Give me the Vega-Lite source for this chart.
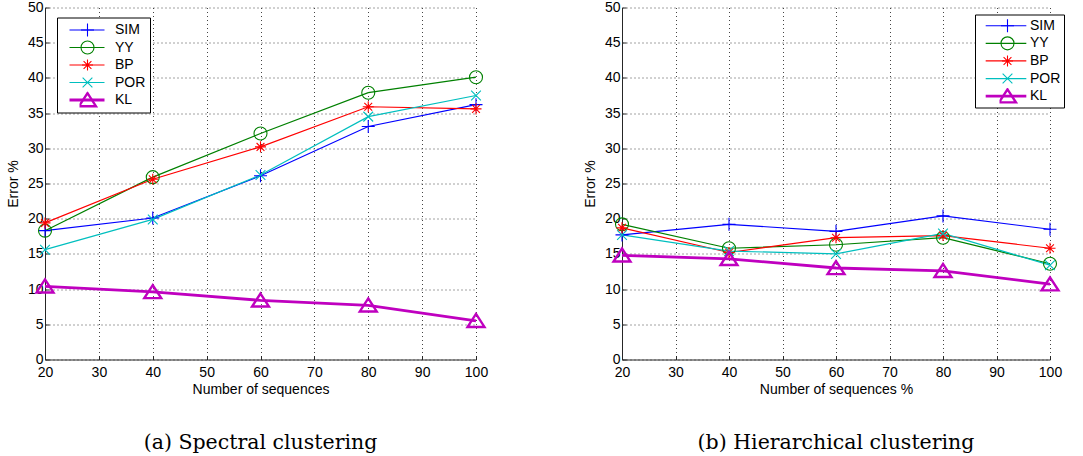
{
  "$schema": "https://vega.github.io/schema/vega-lite/v6.json",
  "background": "white",
  "padding": {"left": 6, "top": 0.5, "right": 5, "bottom": 0},
  "datasets": {
    "spectral": [
      {"n": 20, "err": 18.3, "s": "SIM"}, {"n": 40, "err": 20.1, "s": "SIM"}, {"n": 60, "err": 26.1, "s": "SIM"}, {"n": 80, "err": 33.1, "s": "SIM"}, {"n": 100, "err": 36.2, "s": "SIM"},
      {"n": 20, "err": 18.3, "s": "YY"}, {"n": 40, "err": 25.9, "s": "YY"}, {"n": 60, "err": 32.1, "s": "YY"}, {"n": 80, "err": 37.9, "s": "YY"}, {"n": 100, "err": 40.1, "s": "YY"},
      {"n": 20, "err": 19.4, "s": "BP"}, {"n": 40, "err": 25.6, "s": "BP"}, {"n": 60, "err": 30.2, "s": "BP"}, {"n": 80, "err": 35.9, "s": "BP"}, {"n": 100, "err": 35.6, "s": "BP"},
      {"n": 20, "err": 15.6, "s": "POR"}, {"n": 40, "err": 19.9, "s": "POR"}, {"n": 60, "err": 26.2, "s": "POR"}, {"n": 80, "err": 34.5, "s": "POR"}, {"n": 100, "err": 37.5, "s": "POR"},
      {"n": 20, "err": 10.4, "s": "KL"}, {"n": 40, "err": 9.6, "s": "KL"}, {"n": 60, "err": 8.4, "s": "KL"}, {"n": 80, "err": 7.7, "s": "KL"}, {"n": 100, "err": 5.5, "s": "KL"}
    ],
    "hier": [
      {"n": 20, "err": 17.7, "s": "SIM"}, {"n": 40, "err": 19.2, "s": "SIM"}, {"n": 60, "err": 18.2, "s": "SIM"}, {"n": 80, "err": 20.4, "s": "SIM"}, {"n": 100, "err": 18.5, "s": "SIM"},
      {"n": 20, "err": 19.2, "s": "YY"}, {"n": 40, "err": 15.8, "s": "YY"}, {"n": 60, "err": 16.3, "s": "YY"}, {"n": 80, "err": 17.3, "s": "YY"}, {"n": 100, "err": 13.6, "s": "YY"},
      {"n": 20, "err": 18.7, "s": "BP"}, {"n": 40, "err": 15.2, "s": "BP"}, {"n": 60, "err": 17.3, "s": "BP"}, {"n": 80, "err": 17.6, "s": "BP"}, {"n": 100, "err": 15.8, "s": "BP"},
      {"n": 20, "err": 17.7, "s": "POR"}, {"n": 40, "err": 15.4, "s": "POR"}, {"n": 60, "err": 15.0, "s": "POR"}, {"n": 80, "err": 17.9, "s": "POR"}, {"n": 100, "err": 13.4, "s": "POR"},
      {"n": 20, "err": 14.8, "s": "KL"}, {"n": 40, "err": 14.3, "s": "KL"}, {"n": 60, "err": 13.0, "s": "KL"}, {"n": 80, "err": 12.6, "s": "KL"}, {"n": 100, "err": 10.7, "s": "KL"}
    ]
  },
  "hconcat": [
    {
      "width": 431,
      "height": 352,
      "data": {"name": "spectral"},
      "title": {"text": "(a) Spectral clustering", "orient": "bottom", "frame": "group", "anchor": "middle", "offset": 36, "font": "DejaVu Serif", "fontSize": 20.5, "fontWeight": "normal", "color": "#000"},
      "encoding": {
        "x": {"field": "n", "type": "quantitative", "scale": {"domain": [20, 100], "nice": false, "zero": false}, "axis": {"values": [20, 30, 40, 50, 60, 70, 80, 90, 100], "title": "Number of sequences"}},
        "y": {"field": "err", "type": "quantitative", "scale": {"domain": [0, 50], "nice": false}, "axis": {"values": [0, 5, 10, 15, 20, 25, 30, 35, 40, 45, 50], "title": "Error %"}}
      },
      "layer": [
        {
          "mark": {"type": "line"},
          "encoding": {
            "color": {"field": "s", "type": "nominal", "scale": {"domain": ["SIM", "YY", "BP", "POR", "KL"], "range": ["#0000ff", "#008000", "#ff0000", "#00bfbf", "#bf00bf"]},
              "legend": {"title": null, "orient": "none", "legendX": 12, "legendY": 10, "symbolType": "stroke", "symbolSize": 1225, "symbolOffset": 7, "clipHeight": 17, "rowPadding": 0.5, "padding": 4, "strokeColor": "#000", "fillColor": "#fff", "labelOffset": 9, "labelExpr": "datum.label"}},
            "strokeWidth": {"field": "s", "type": "nominal", "scale": {"type": "ordinal", "domain": ["SIM", "YY", "BP", "POR", "KL"], "range": [1.2, 1.2, 1.2, 1.2, 2.8]},
              "legend": {"title": null, "orient": "none", "legendX": 12, "legendY": 10, "symbolType": "stroke", "symbolSize": 1225, "symbolOffset": 7, "clipHeight": 17, "rowPadding": 0.5, "padding": 4, "strokeColor": "#000", "fillColor": "#fff", "labelOffset": 9, "labelExpr": "datum.label"}}
          }
        },
        {
          "mark": {"type": "point", "filled": false, "size": 169, "opacity": 1},
          "encoding": {
            "color": {"field": "s", "type": "nominal",
              "legend": {"title": null, "orient": "none", "legendX": 30.5, "legendY": 10, "symbolSize": 169, "clipHeight": 17, "rowPadding": 0.5, "padding": 4, "labelOpacity": 0, "labelOffset": 10, "labelExpr": "datum.label"}},
            "shape": {"field": "s", "type": "nominal", "scale": {"domain": ["SIM", "YY", "BP", "POR", "KL"], "range": ["M-1,0L1,0M0,-1L0,1", "circle", "M-0.85,0L0.85,0M0,-0.85L0,0.85M-0.6,-0.6L0.6,0.6M-0.6,0.6L0.6,-0.6", "M-0.75,-0.75L0.75,0.75M-0.75,0.75L0.75,-0.75", "M0,-1.05L1.3,0.95L-1.3,0.95Z"]},
              "legend": {"title": null, "orient": "none", "legendX": 30.5, "legendY": 10, "symbolSize": 169, "clipHeight": 17, "rowPadding": 0.5, "padding": 4, "labelOpacity": 0, "labelOffset": 10, "labelExpr": "datum.label"}},
            "strokeWidth": {"field": "s", "type": "nominal", "scale": {"type": "ordinal", "domain": ["SIM", "YY", "BP", "POR", "KL"], "range": [1.1, 1.1, 1.1, 1.1, 2.4]},
              "legend": {"title": null, "orient": "none", "legendX": 30.5, "legendY": 10, "symbolSize": 169, "clipHeight": 17, "rowPadding": 0.5, "padding": 4, "labelOpacity": 0, "labelOffset": 10, "labelExpr": "datum.label"}}
          }
        }
      ],
      "resolve": {"scale": {"strokeWidth": "independent"}, "legend": {"color": "independent", "shape": "independent", "strokeWidth": "independent"}}
    },
    {
      "width": 428,
      "height": 352,
      "data": {"name": "hier"},
      "title": {"text": "(b) Hierarchical clustering", "orient": "bottom", "frame": "group", "anchor": "middle", "offset": 36, "font": "DejaVu Serif", "fontSize": 20.5, "fontWeight": "normal", "color": "#000"},
      "encoding": {
        "x": {"field": "n", "type": "quantitative", "scale": {"domain": [20, 100], "nice": false, "zero": false}, "axis": {"values": [20, 30, 40, 50, 60, 70, 80, 90, 100], "title": "Number of sequences %"}},
        "y": {"field": "err", "type": "quantitative", "scale": {"domain": [0, 50], "nice": false}, "axis": {"values": [0, 5, 10, 15, 20, 25, 30, 35, 40, 45, 50], "title": "Error %"}}
      },
      "layer": [
        {
          "mark": {"type": "line"},
          "encoding": {
            "color": {"field": "s", "type": "nominal", "scale": {"domain": ["SIM", "YY", "BP", "POR", "KL"], "range": ["#0000ff", "#008000", "#ff0000", "#00bfbf", "#bf00bf"]},
              "legend": {"title": null, "orient": "none", "legendX": 353, "legendY": 7, "symbolType": "stroke", "symbolSize": 1650, "symbolOffset": 6, "clipHeight": 16.5, "rowPadding": 0.6, "padding": 3, "strokeColor": "#000", "fillColor": "#fff", "labelOffset": 2, "labelExpr": "datum.label + ' '"}},
            "strokeWidth": {"field": "s", "type": "nominal", "scale": {"type": "ordinal", "domain": ["SIM", "YY", "BP", "POR", "KL"], "range": [1.2, 1.2, 1.2, 1.2, 2.8]},
              "legend": {"title": null, "orient": "none", "legendX": 353, "legendY": 7, "symbolType": "stroke", "symbolSize": 1650, "symbolOffset": 6, "clipHeight": 16.5, "rowPadding": 0.6, "padding": 3, "strokeColor": "#000", "fillColor": "#fff", "labelOffset": 2, "labelExpr": "datum.label + ' '"}}
          }
        },
        {
          "mark": {"type": "point", "filled": false, "size": 169, "opacity": 1},
          "encoding": {
            "color": {"field": "s", "type": "nominal",
              "legend": {"title": null, "orient": "none", "legendX": 374.5, "legendY": 7, "symbolSize": 169, "clipHeight": 16.5, "rowPadding": 0.6, "padding": 3, "labelOpacity": 0, "labelOffset": 6, "labelExpr": "datum.label"}},
            "shape": {"field": "s", "type": "nominal", "scale": {"domain": ["SIM", "YY", "BP", "POR", "KL"], "range": ["M-1,0L1,0M0,-1L0,1", "circle", "M-0.85,0L0.85,0M0,-0.85L0,0.85M-0.6,-0.6L0.6,0.6M-0.6,0.6L0.6,-0.6", "M-0.75,-0.75L0.75,0.75M-0.75,0.75L0.75,-0.75", "M0,-1.05L1.3,0.95L-1.3,0.95Z"]},
              "legend": {"title": null, "orient": "none", "legendX": 374.5, "legendY": 7, "symbolSize": 169, "clipHeight": 16.5, "rowPadding": 0.6, "padding": 3, "labelOpacity": 0, "labelOffset": 6, "labelExpr": "datum.label"}},
            "strokeWidth": {"field": "s", "type": "nominal", "scale": {"type": "ordinal", "domain": ["SIM", "YY", "BP", "POR", "KL"], "range": [1.1, 1.1, 1.1, 1.1, 2.4]},
              "legend": {"title": null, "orient": "none", "legendX": 374.5, "legendY": 7, "symbolSize": 169, "clipHeight": 16.5, "rowPadding": 0.6, "padding": 3, "labelOpacity": 0, "labelOffset": 6, "labelExpr": "datum.label"}}
          }
        }
      ],
      "resolve": {"scale": {"strokeWidth": "independent"}, "legend": {"color": "independent", "shape": "independent", "strokeWidth": "independent"}}
    }
  ],
  "spacing": 146,
  "bounds": "flush",
  "config": {
    "view": {"stroke": null},
    "axis": {
      "domainColor": "#262626", "domainWidth": 1, "tickColor": "#262626", "tickSize": -4, "tickWidth": 1,
      "labelFont": "Liberation Sans", "labelFontSize": 14, "labelColor": "#000", "labelPadding": 6,
      "titleFont": "Liberation Sans", "titleFontSize": 14, "titleFontWeight": "normal", "titleColor": "#000",
      "grid": true, "gridColor": "#444", "gridDash": [1, 3], "gridWidth": 1, "gridOpacity": 1
    },
    "axisX": {"titlePadding": 3, "labelPadding": 10, "labelFlush": false},
    "axisY": {"titlePadding": 6.5},
    "legend": {"labelFont": "Liberation Sans", "labelFontSize": 14, "labelColor": "#000"}
  }
}
